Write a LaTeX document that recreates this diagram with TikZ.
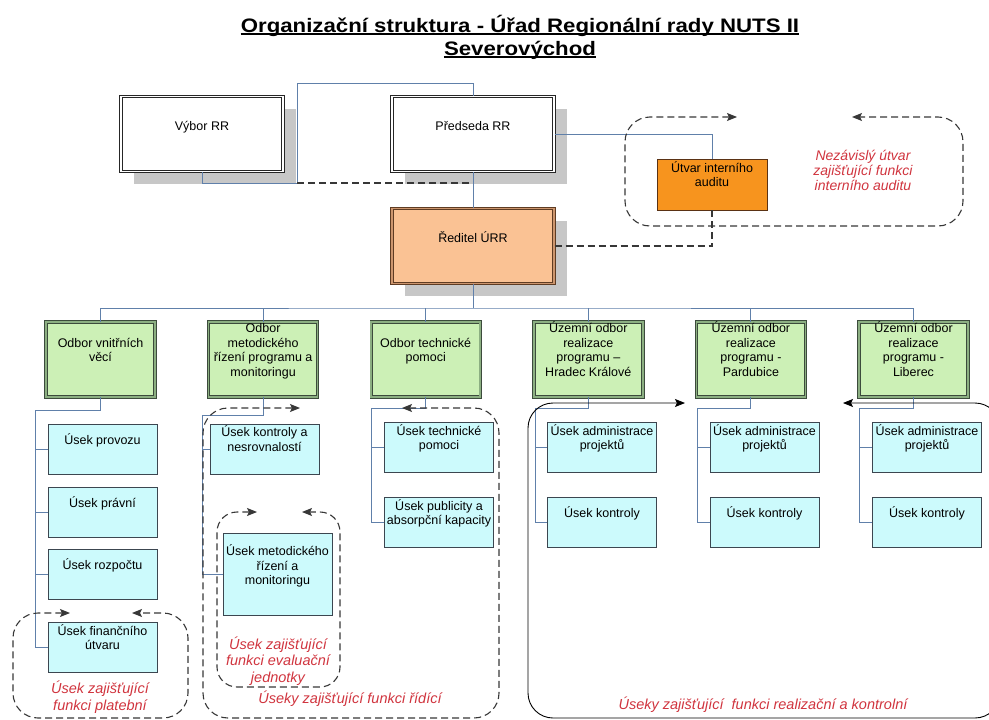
\documentclass[tikz,border=0pt]{standalone}
\usepackage{fontspec}
\setmainfont{Liberation Sans}
\newfontfamily\titlefont[FakeStretch=1.14]{Liberation Sans}
\usepackage{tikz}
\usetikzlibrary{arrows.meta,shadows}

\definecolor{linkblue}{RGB}{96,128,170}
\definecolor{regiongray}{RGB}{55,55,55}
\definecolor{notered}{RGB}{208,52,62}
\definecolor{odborgreen}{RGB}{204,240,182}
\definecolor{odborline}{RGB}{60,75,60}
\definecolor{odbormid}{RGB}{140,175,130}
\definecolor{usekcyan}{RGB}{204,250,252}
\definecolor{usekline}{RGB}{60,70,80}
\definecolor{reditelpeach}{RGB}{250,194,148}
\definecolor{reditelline}{RGB}{95,60,35}
\definecolor{reditelmid}{RGB}{205,150,110}
\definecolor{auditorange}{RGB}{247,148,30}
\definecolor{auditline}{RGB}{90,50,20}
\newcommand{\boxtext}[1]{\begin{tabular}{@{}c@{}}#1\end{tabular}}

\begin{document}
\begin{tikzpicture}[x=1pt,y=-1pt,
  box/.style={inner sep=0pt,font=\fontsize{12.5}{14.5}\selectfont},
  chief/.style={box,draw=black!85,line width=1pt,double=white,double distance=1.5pt,fill=white,
    minimum width=162pt,text height=34pt,text depth=41pt,
    drop shadow={shadow xshift=13pt,shadow yshift=-12pt,fill=black!22,opacity=1}},
  head/.style={chief,draw=reditelline,double=reditelmid,fill=reditelpeach},
  audit/.style={box,draw=auditline,line width=0.9pt,fill=auditorange,minimum width=110pt,
    text height=20.5pt,text depth=30.5pt},
  odbor/.style={box,draw=odborline,line width=0.9pt,double=odbormid,double distance=1.6pt,
    fill=odborgreen,minimum width=109pt,text height=32.5pt,text depth=42.5pt},
  usek/.style={box,draw=usekline,line width=0.9pt,fill=usekcyan,minimum width=109pt,
    text height=20pt,text depth=30pt},
  link/.style={draw=linkblue,line width=0.9pt},
  dashlink/.style={draw=regiongray,line width=1.1pt,dash pattern=on 7pt off 4pt},
  region/.style={dashlink,rounded corners=25pt,
    {Stealth[length=10pt,width=8pt,inset=2pt]}-{Stealth[length=10pt,width=8pt,inset=2pt]}},
  regionline/.style={draw=black,line width=0.9pt,rounded corners=25pt,
    {Stealth[length=10pt,width=8pt,inset=2pt]}-{Stealth[length=10pt,width=8pt,inset=2pt]}},
  note/.style={text=notered,font=\itshape\fontsize{14.5}{16.5}\selectfont,align=center,inner sep=0pt},
  title/.style={font=\titlefont\bfseries\fontsize{19.5}{23}\selectfont,inner sep=0pt,anchor=base}]
  \useasboundingbox (0,0) rectangle (989,720);
  \clip (0,0) rectangle (989,720);

  \node[title] (title) at (520,32) {Organizační struktura - Úřad Regionální rady NUTS II};
  \node[title] (subtitle) at (520,55) {Severovýchod};
  \draw[line width=1.5pt] ([yshift=-2pt]title.base west) -- ([yshift=-2pt]title.base east);
  \draw[line width=1.5pt] ([yshift=-2pt]subtitle.base west) -- ([yshift=-2pt]subtitle.base east);

  \node[chief] (vybor) at (202,134) {Výbor RR};
  \node[chief] (predseda) at (473,134) {Předseda RR};
  \node[head] (reditel) at (473,246) {Ředitel ÚRR};
  \node[audit] (audit) at (712,184.5) {\boxtext{Útvar interního\\auditu}};

  \node[odbor] (ov) at (100.5,359.5) {\boxtext{Odbor vnitřních\\věcí}};
  \node[odbor] (mr) at (263.1,359.5) {\boxtext{Odbor\\metodického\\řízení programu a\\monitoringu}};
  \node[odbor] (tp) at (425.7,359.5) {\boxtext{Odbor technické\\pomoci}};
  \node[odbor] (hk) at (588.3,359.5) {\boxtext{Územní odbor\\realizace\\programu –\\Hradec Králové}};
  \node[odbor] (pa) at (750.9,359.5) {\boxtext{Územní odbor\\realizace\\programu -\\Pardubice}};
  \node[odbor] (li) at (913.5,359.5) {\boxtext{Územní odbor\\realizace\\programu -\\Liberec}};

  \node[usek] (provoz) at (102.5,449) {Úsek provozu};
  \node[usek] (pravni) at (102.5,512) {Úsek právní};
  \node[usek] (rozpocet) at (102.5,574) {Úsek rozpočtu};
  \node[usek] (financni) at (102.5,647) {\boxtext{Úsek finančního\\útvaru}};
  \node[usek] (kontrola) at (264.5,449) {\boxtext{Úsek kontroly a\\nesrovnalostí}};
  \node[usek,text height=37pt,text depth=45pt] (metodika) at (277.5,574) {\boxtext{Úsek metodického\\řízení a\\monitoringu}};
  \node[usek] (technicka) at (439,447.5) {\boxtext{Úsek technické\\pomoci}};
  \node[usek] (publicita) at (439,522.5) {\boxtext{Úsek publicity a\\absorpční kapacity}};
  \node[usek] (hkadmin) at (602,447.5) {\boxtext{Úsek administrace\\projektů}};
  \node[usek] (hkkontrola) at (602,522.5) {Úsek kontroly};
  \node[usek] (paadmin) at (764.5,447.5) {\boxtext{Úsek administrace\\projektů}};
  \node[usek] (pakontrola) at (764.5,522.5) {Úsek kontroly};
  \node[usek] (liadmin) at (927,447.5) {\boxtext{Úsek administrace\\projektů}};
  \node[usek] (likontrola) at (927,522.5) {Úsek kontroly};

  \coordinate (vj) at (297,183);
  \coordinate (vk) at (297,83);
  \draw[link] (vybor.south) |- (vj) -- (vk) -| (predseda.north);
  \draw[dashlink] (vj) -- (vj -| predseda.south);
  \draw[link] (predseda.south) -- (reditel.north);
  \draw[link] (predseda.east) -| (audit.north);
  \draw[dashlink] (reditel.east) -| (audit.south);

  \coordinate (bus) at (473,308);
  \draw[link] (reditel.south) -- (bus);
  \draw[link] (ov.north) |- (bus) -| (li.north);
  \foreach \o in {mr,tp,hk,pa}
    \draw[link] (\o.north) -- (\o.north |- bus);

  \coordinate (s1) at (35,410);
  \draw[link] (ov.south) |- (s1);
  \foreach \u in {provoz,pravni,rozpocet,financni}
    \draw[link] (s1) |- (\u.west);
  \coordinate (s2) at (202,415);
  \draw[link] (mr.south) |- (s2);
  \foreach \u in {kontrola,metodika}
    \draw[link] (s2) |- (\u.west);
  \coordinate (s3) at (371,408);
  \draw[link] (tp.south) |- (s3);
  \foreach \u in {technicka,publicita}
    \draw[link] (s3) |- (\u.west);
  \coordinate (s4) at (535,408);
  \draw[link] (hk.south) |- (s4);
  \foreach \u in {hkadmin,hkkontrola}
    \draw[link] (s4) |- (\u.west);
  \coordinate (s5) at (697,408);
  \draw[link] (pa.south) |- (s5);
  \foreach \u in {paadmin,pakontrola}
    \draw[link] (s5) |- (\u.west);
  \coordinate (s6) at (859,408);
  \draw[link] (li.south) |- (s6);
  \foreach \u in {liadmin,likontrola}
    \draw[link] (s6) |- (\u.west);

  \draw[region] (737,117) -| (625,226) -| (963,117) -- (852,117);
  \draw[region] (70,613) -| (13,718) -| (188,613) -- (132,613);
  \draw[region] (300,408) -| (203,718) -| (499,408) -- (402,408);
  \draw[region,rounded corners=20pt] (257,512) -| (217,687) -| (340,512) -- (302,512);
  \draw[regionline] (685,403) -| (528,718) -| (1000,403) -- (843,403);

  \node[note,font=\itshape\fontsize{14}{15}\selectfont] (nezavisly) at (863,170) {Nezávislý útvar\\zajišťující funkci\\interního auditu};
  \node[note] (platebni) at (100,697) {Úsek zajišťující\\funkci platební};
  \node[note] (evaluacni) at (278,661) {Úsek zajišťující\\funkci evaluační\\jednotky};
  \node[note] (ridici) at (350,699) {Úseky zajišťující funkci řídící};
  \node[note] (realizacni) at (763,705) {Úseky zajišťující~ funkci realizační a kontrolní};
\end{tikzpicture}
\end{document}
